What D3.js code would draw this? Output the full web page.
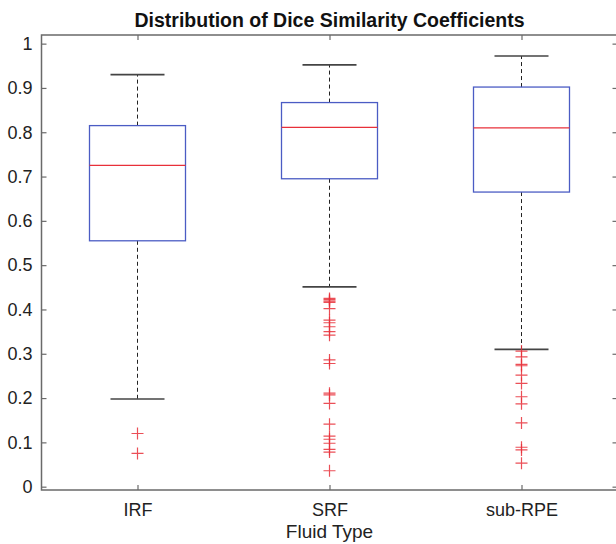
<!DOCTYPE html>
<html><head><meta charset="utf-8">
<script src="https://cdn.jsdelivr.net/npm/d3@7"></script>
<style>body{margin:0;background:#fff}svg{display:block}</style>
</head><body>
<script>
const categories = ["IRF", "SRF", "sub-RPE"];
const upperWhisker = [0.930, 0.952, 0.972];
const q3 = [0.815, 0.867, 0.902];
const medians = [0.725, 0.811, 0.810];
const q1 = [0.555, 0.695, 0.665];
const lowerWhisker = [0.198, 0.451, 0.310];
const outliersIRF = [0.120, 0.075];
const outliersSRF = [0.425, 0.422, 0.419, 0.416, 0.402, 0.376, 0.370, 0.361, 0.350, 0.342, 0.286, 0.278, 0.211, 0.207, 0.188, 0.141, 0.114, 0.107, 0.098, 0.084, 0.078, 0.036];
const outliersSubRPE = [0.306, 0.293, 0.276, 0.273, 0.252, 0.233, 0.203, 0.187, 0.144, 0.089, 0.083, 0.053];
const yTicks = [0, 0.1, 0.2, 0.3, 0.4, 0.5, 0.6, 0.7, 0.8, 0.9, 1];
const outliers = [outliersIRF, outliersSRF, outliersSubRPE];

const W = 616, H = 544;
const m = {left: 41.5, right: -1.5, top: 35, bottom: 54};
const svg = d3.select("body").append("svg").attr("width", W).attr("height", H);
const font = "'Liberation Sans', Arial, sans-serif";

const x = d3.scaleLinear().domain([0.5, 3.5]).range([m.left, W - m.right]);
const y = d3.scaleLinear().domain([-0.0075, 1.0195]).range([H - m.bottom, m.top]);
const step = x(2) - x(1);
const boxHalf = step * 0.25;
const capHalf = step * 0.125 + 3;

const axisColor = "#6a6a6a";
const blue = "#4b5cc4", red = "#e8303a";

const g = svg.append("g");
categories.forEach((c, i) => {
  const cx = x(i + 1);
  g.append("line").attr("x1", cx).attr("x2", cx).attr("y1", y(q3[i])).attr("y2", y(upperWhisker[i]))
    .attr("stroke", "#222").attr("stroke-dasharray", "4,3").attr("stroke-width", 1);
  g.append("line").attr("x1", cx).attr("x2", cx).attr("y1", y(q1[i])).attr("y2", y(lowerWhisker[i]))
    .attr("stroke", "#222").attr("stroke-dasharray", "4,3").attr("stroke-width", 1);
  [upperWhisker[i], lowerWhisker[i]].forEach(v => {
    g.append("line").attr("x1", cx - capHalf).attr("x2", cx + capHalf).attr("y1", y(v)).attr("y2", y(v))
      .attr("stroke", "#444").attr("stroke-width", 1.6);
  });
  g.append("rect").attr("x", cx - boxHalf).attr("y", y(q3[i]))
    .attr("width", boxHalf * 2).attr("height", y(q1[i]) - y(q3[i]))
    .attr("fill", "none").attr("stroke", blue).attr("stroke-width", 1.3);
  g.append("line").attr("x1", cx - boxHalf).attr("x2", cx + boxHalf).attr("y1", y(medians[i])).attr("y2", y(medians[i]))
    .attr("stroke", red).attr("stroke-width", 1.3);
  outliers[i].forEach(v => {
    const py = y(v), s = 6;
    g.append("path").attr("d", `M${cx - s},${py}H${cx + s}M${cx},${py - s}V${py + s}`)
      .attr("stroke", red).attr("stroke-width", 1.2).attr("fill", "none").attr("opacity", 0.85);
  });
});

const tickLen = 5;
svg.append("rect").attr("x", x(0.5)).attr("y", y(1.0195)).attr("width", x(3.5) - x(0.5)).attr("height", y(-0.0075) - y(1.0195))
  .attr("fill", "none").attr("stroke", axisColor).attr("stroke-width", 1.5);

const yAxis = d3.axisLeft(y).tickValues(yTicks).tickSize(-tickLen).tickPadding(9)
  .tickFormat(d => d === 0 ? "0" : d === 1 ? "1" : d3.format(".1f")(d));
const ya = svg.append("g").attr("transform", `translate(${x(0.5)},0)`).call(yAxis);
ya.select(".domain").remove();
ya.selectAll("line").attr("stroke", axisColor).attr("stroke-width", 1.2);
ya.selectAll("text").attr("font-family", font).attr("font-size", 18).attr("fill", "#222");

const yR = svg.append("g").attr("transform", `translate(${x(3.5)},0)`).call(d3.axisRight(y).tickValues(yTicks).tickSize(-tickLen).tickFormat(""));
yR.select(".domain").remove();
yR.selectAll("line").attr("stroke", axisColor).attr("stroke-width", 1.2);

const xAxis = d3.axisBottom(x).tickValues([1, 2, 3]).tickSize(-tickLen).tickPadding(13)
  .tickFormat((d, i) => categories[i]);
const xa = svg.append("g").attr("transform", `translate(0,${y(-0.0075)})`).call(xAxis);
xa.select(".domain").remove();
xa.selectAll("line").attr("stroke", axisColor).attr("stroke-width", 1.2);
xa.selectAll("text").attr("font-family", font).attr("font-size", 18).attr("fill", "#222");

const xT = svg.append("g").attr("transform", `translate(0,${y(1.0195)})`).call(d3.axisTop(x).tickValues([1, 2, 3]).tickSize(-tickLen).tickFormat(""));
xT.select(".domain").remove();
xT.selectAll("line").attr("stroke", axisColor).attr("stroke-width", 1.2);

svg.append("text").attr("x", (x(0.5) + x(3.5)) / 2).attr("y", 27).attr("text-anchor", "middle")
  .attr("font-family", font).attr("font-weight", "bold").attr("font-size", 19.5).attr("fill", "#111")
  .text("Distribution of Dice Similarity Coefficients");
svg.append("text").attr("x", (x(0.5) + x(3.5)) / 2).attr("y", 538).attr("text-anchor", "middle")
  .attr("font-family", font).attr("font-size", 19).attr("fill", "#222")
  .text("Fluid Type");
</script>
</body></html>
